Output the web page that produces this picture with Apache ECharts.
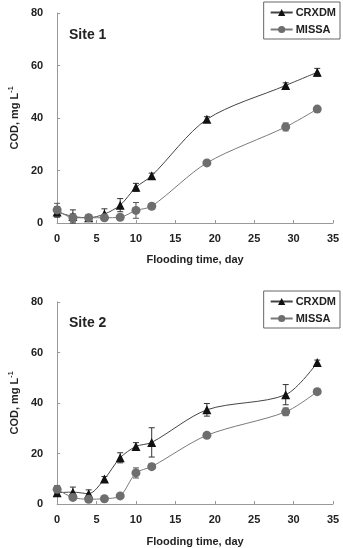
<!DOCTYPE html>
<html><head><meta charset="utf-8">
<script src="https://cdn.jsdelivr.net/npm/echarts@6/dist/echarts.min.js"></script>
<style>html,body{margin:0;padding:0;background:#fff}#c{width:343px;height:548px}</style>
</head><body><div id="c"></div>
<script>
var days = [0, 2, 4, 6, 8, 10, 12, 19, 29, 33];
var site1Crxdm = [4.2, 2.5, 2.0, 3.4, 6.8, 13.6, 18.0, 39.5, 52.4, 57.4];
var site1CrxdmErr = [2.0, 2.5, 1.0, 2.0, 2.5, 1.5, 1.0, 1.0, 1.0, 1.5];
var site1Missa = [5.0, 2.0, 2.0, 2.0, 2.2, 4.8, 6.4, 22.9, 36.6, 43.4];
var site1MissaErr = [2.5, 1.5, 1.0, 1.0, 1.0, 3.0, 1.0, 0.8, 1.5, 1.0];
var site2Crxdm = [4.5, 4.7, 4.1, 9.9, 18.3, 22.8, 24.4, 37.3, 43.3, 56.0];
var site2CrxdmErr = [1.5, 2.0, 1.5, 1.0, 2.0, 1.5, 5.8, 2.5, 4.0, 1.0];
var site2Missa = [5.8, 2.6, 1.9, 2.1, 3.2, 12.3, 14.8, 27.2, 36.5, 44.5];
var site2MissaErr = [1.5, 1.0, 1.0, 0.5, 0.5, 2.0, 1.0, 1.0, 1.5, 1.0];
var xTicks = [0, 5, 10, 15, 20, 25, 30, 35];
var yTicks = [0, 20, 40, 60, 80];
var siteLabels = ['Site 1', 'Site 2'];
var seriesNames = ['CRXDM', 'MISSA'];

var FONT = '"Liberation Sans", Arial, sans-serif';
var chart = echarts.init(document.getElementById('c'));
var grids = [
  {left: 55, right: 10, top: 13, height: 210},
  {left: 55, right: 10, top: 302, height: 208}
];
function pair(xs, ys) { return xs.map(function (x, i) { return [x, ys[i]]; }); }
function errData(xs, ys, es) { return xs.map(function (x, i) { return [x, ys[i] - es[i], ys[i] + es[i]]; }); }
function errSeries(idx, xs, ys, es, color) {
  return {
    type: 'custom', xAxisIndex: idx, yAxisIndex: idx, silent: true, z: 1,
    data: errData(xs, ys, es),
    encode: {x: 0, y: [1, 2]},
    renderItem: function (params, api) {
      var lo = api.coord([api.value(0), api.value(1)]);
      var hi = api.coord([api.value(0), api.value(2)]);
      var w = 3;
      var st = {stroke: color, lineWidth: 1};
      return {type: 'group', children: [
        {type: 'line', shape: {x1: lo[0], y1: lo[1], x2: hi[0], y2: hi[1]}, style: st},
        {type: 'line', shape: {x1: lo[0] - w, y1: lo[1], x2: lo[0] + w, y2: lo[1]}, style: st},
        {type: 'line', shape: {x1: hi[0] - w, y1: hi[1], x2: hi[0] + w, y2: hi[1]}, style: st}
      ]};
    }
  };
}
function lineSeries(idx, name, ys, symbol, color, lineColor, size) {
  return {
    type: 'line', name: name, xAxisIndex: idx, yAxisIndex: idx, z: 3,
    data: pair(days, ys), smooth: 0.3,
    symbol: symbol, symbolSize: size,
    itemStyle: {color: color},
    lineStyle: {color: lineColor, width: 1}
  };
}
var xAxes = [0, 1].map(function (i) {
  return {
    gridIndex: i, type: 'value', min: 0, max: 35, interval: 5,
    name: 'Flooding time, day', nameLocation: 'middle', nameGap: i === 0 ? 31 : 32,
    nameTextStyle: {fontFamily: FONT, fontWeight: 'bold', fontSize: 11, color: '#222'},
    axisLine: {lineStyle: {color: '#999'}},
    axisTick: {inside: true, length: 3, lineStyle: {color: '#999'}},
    axisLabel: {fontFamily: FONT, fontWeight: 'bold', fontSize: 11, color: '#222', margin: 10,
      formatter: function (v) { return xTicks.indexOf(v) >= 0 ? String(v) : ''; }},
    splitLine: {show: false}
  };
});
var yAxes = [0, 1].map(function (i) {
  return {
    gridIndex: i, type: 'value', min: 0, max: 80, interval: 20,
    name: 'COD, mg L{sup|-1}', nameLocation: 'middle', nameGap: 36,
    nameTextStyle: {fontFamily: FONT, fontWeight: 'bold', fontSize: 11, color: '#222',
      rich: {sup: {fontFamily: FONT, fontWeight: 'bold', fontSize: 7, color: '#222', verticalAlign: 'top', padding: [0, 0, 6, 0]}}},
    axisLine: {show: true, lineStyle: {color: '#999'}},
    axisTick: {show: true, inside: true, length: 3, lineStyle: {color: '#999'}},
    axisLabel: {fontFamily: FONT, fontWeight: 'bold', fontSize: 11, color: '#222', margin: 14,
      formatter: function (v) { return yTicks.indexOf(v) >= 0 ? String(v) : ''; }},
    splitLine: {show: false}
  };
});
var series = [
  errSeries(0, days, site1Crxdm, site1CrxdmErr, '#333'),
  errSeries(0, days, site1Missa, site1MissaErr, '#555'),
  lineSeries(0, seriesNames[0], site1Crxdm, 'triangle', '#111', '#444', 9),
  lineSeries(0, seriesNames[1], site1Missa, 'circle', '#6e6e6e', '#7a7a7a', 9),
  errSeries(1, days, site2Crxdm, site2CrxdmErr, '#333'),
  errSeries(1, days, site2Missa, site2MissaErr, '#555'),
  lineSeries(1, seriesNames[0], site2Crxdm, 'triangle', '#111', '#444', 9),
  lineSeries(1, seriesNames[1], site2Missa, 'circle', '#6e6e6e', '#7a7a7a', 9)
];
var legendCommon = {
  orient: 'vertical', right: 3, itemWidth: 22, itemHeight: 9, itemGap: 6,
  padding: [5, 4, 4, 6], borderColor: '#666', borderWidth: 1, borderRadius: 0,
  textStyle: {fontFamily: FONT, fontWeight: 'bold', fontSize: 11, color: '#222', padding: [0, 0, 0, -2]},
  data: seriesNames, selectedMode: false
};
chart.setOption({
  animation: false,
  grid: grids,
  xAxis: xAxes,
  yAxis: yAxes,
  legend: [
    Object.assign({top: 2}, legendCommon),
    Object.assign({top: 291}, legendCommon)
  ],
  title: [
    {text: siteLabels[0], left: 64, top: 23, textStyle: {fontFamily: FONT, fontWeight: 'bold', fontSize: 14, color: '#222'}},
    {text: siteLabels[1], left: 64, top: 311, textStyle: {fontFamily: FONT, fontWeight: 'bold', fontSize: 14, color: '#222'}}
  ],
  series: series
});
</script>
</body></html>
